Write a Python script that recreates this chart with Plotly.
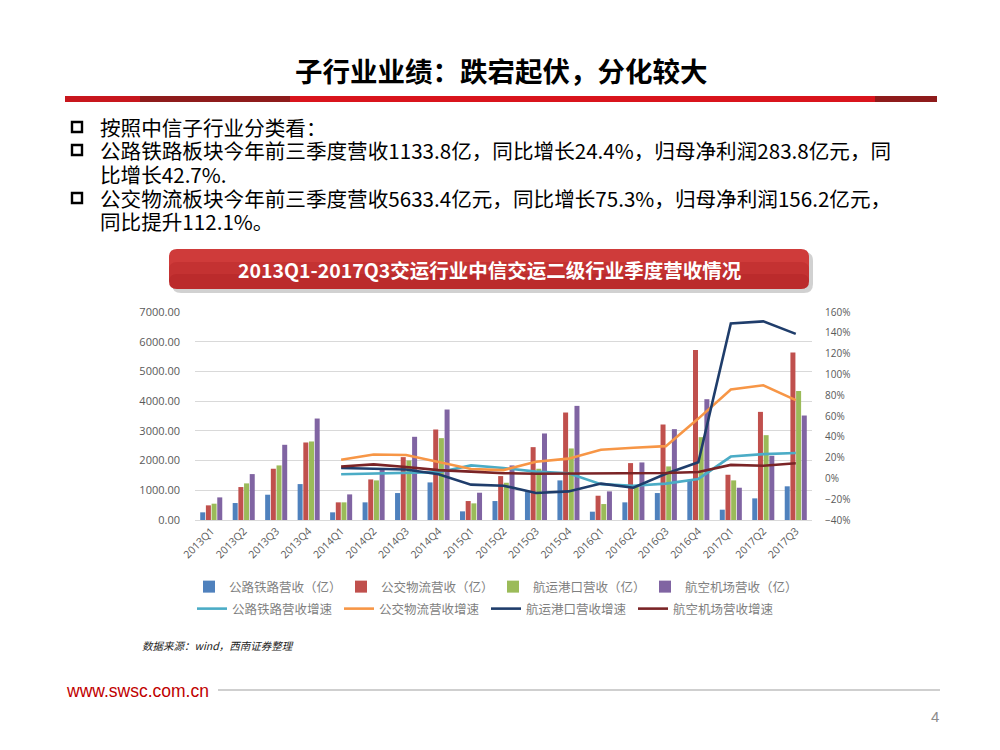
import plotly.graph_objects as go

# ---------------- data ----------------
quarters = ["2013Q1", "2013Q2", "2013Q3", "2013Q4", "2014Q1", "2014Q2", "2014Q3", "2014Q4",
            "2015Q1", "2015Q2", "2015Q3", "2015Q4", "2016Q1", "2016Q2", "2016Q3", "2016Q4",
            "2017Q1", "2017Q2", "2017Q3"]

highway_rev = [258, 571, 851, 1209, 258, 594, 907, 1265, 291, 638, 940, 1333, 280, 594, 907, 1320, 347, 728, 1133.8]
logistics_rev = [493, 1109, 1725, 2609, 594, 1366, 2116, 3046, 638, 1478, 2452, 3617, 817, 1915, 3214, 5722, 1523, 3639, 5633.4]
port_rev = [549, 1232, 1837, 2643, 594, 1333, 2004, 2755, 560, 1254, 1725, 2408, 537, 1150, 1803, 2788, 1333, 2855, 4345]
airport_rev = [761, 1545, 2531, 3415, 862, 1725, 2800, 3718, 918, 1837, 2912, 3841, 963, 1937, 3057, 4065, 1086, 2161, 3516]

highway_g = [None, None, None, None, 4, 4.5, 5.5, 6, 12.5, 10, 6.5, 5, -5.5, -7, -5, -0.5, 21, 23.3, 24.4]
logistics_g = [None, None, None, None, 18, 23, 22.5, 16, 9, 8, 16, 19, 27.5, 29.5, 31, 57.5, 85.5, 89.5, 75.3]
port_g = [None, None, None, None, 10, 9.5, 8.5, 4, -6, -7, -14, -12.5, -5, -9, 4.5, 15.5, 149, 151, 139]
airport_g = [None, None, None, None, 11.5, 13.5, 11, 8, 6.5, 5, 4.5, 4.5, 4.5, 4.8, 5.2, 6.2, 13, 12.2, 14.5]

bar_names = ["公路铁路营收（亿）", "公交物流营收（亿）", "航运港口营收（亿）", "航空机场营收（亿）"]
line_names = ["公路铁路营收增速", "公交物流营收增速", "航运港口营收增速", "航空机场营收增速"]

title_text = "子行业业绩：跌宕起伏，分化较大"
bullet_lines = [
    ("按照中信子行业分类看：", True),
    ("公路铁路板块今年前三季度营收1133.8亿，同比增长24.4%，归母净利润283.8亿元，同", True),
    ("比增长42.7%.", False),
    ("公交物流板块今年前三季度营收5633.4亿元，同比增长75.3%，归母净利润156.2亿元，", True),
    ("同比提升112.1%。", False),
]
chart_title = "2013Q1-2017Q3交运行业中信交运二级行业季度营收情况"
source_text = "数据来源：wind，西南证券整理"

# ---------------- style ----------------
bar_colors = ["#4f81bd", "#c0504d", "#9bbb59", "#8064a2"]
line_colors = ["#4bacc6", "#f79646", "#1f3d6b", "#7a2426"]
CJK = "Noto Sans CJK SC, Noto Sans, sans-serif"
TICK_FONT = dict(family="Open Sans, Noto Sans, sans-serif", size=10.5, color="#595959")
LEG_FONT = dict(family=CJK, size=12.5, color="#7f7f7f")

W, H = 1000, 750
def px(x):
    return x / W
def py(y):
    return 1 - y / H

fig = go.Figure()

for vals, name, col in zip([highway_rev, logistics_rev, port_rev, airport_rev], bar_names, bar_colors):
    fig.add_trace(go.Bar(x=quarters, y=vals, name=name, marker=dict(color=col, line=dict(width=0)),
                         legend="legend"))

for vals, name, col in zip([highway_g, logistics_g, port_g, airport_g], line_names, line_colors):
    fig.add_trace(go.Scatter(x=quarters, y=vals, name=name, mode="lines",
                             line=dict(color=col, width=2.6), yaxis="y2", legend="legend2"))

shapes = []
# title underline bar segments
for x0, x1, c in [(65, 140, "#c8161d"), (140, 290, "#8e1b1b"), (290, 875, "#d9141c"), (875, 937, "#8e1b1b")]:
    shapes.append(dict(type="rect", xref="paper", yref="paper", x0=px(x0), x1=px(x1),
                       y0=py(102), y1=py(96), fillcolor=c, line=dict(width=0), layer="above"))

line_ys = [127, 150, 174, 198, 221]
for (txt, bullet), yy in zip(bullet_lines, line_ys):
    if bullet:
        shapes.append(dict(type="rect", xref="paper", yref="paper", x0=px(72), x1=px(82),
                           y0=py(yy + 5), y1=py(yy - 5), fillcolor="white",
                           line=dict(color="black", width=2.4)))

# banner with rounded corners
def rounded(x0, y0, x1, y1, r):
    rx, ry = r / W, r / H
    X0, X1, Y0, Y1 = px(x0), px(x1), py(y1), py(y0)
    return (f"M {X0+rx},{Y1} L {X1-rx},{Y1} Q {X1},{Y1} {X1},{Y1-ry} "
            f"L {X1},{Y0+ry} Q {X1},{Y0} {X1-rx},{Y0} L {X0+rx},{Y0} "
            f"Q {X0},{Y0} {X0},{Y0+ry} L {X0},{Y1-ry} Q {X0},{Y1} {X0+rx},{Y1} Z")

shapes.append(dict(type="path", xref="paper", yref="paper", path=rounded(172, 252, 813, 293, 9),
                   fillcolor="rgba(0,0,0,0.18)", line=dict(width=0)))
shapes.append(dict(type="path", xref="paper", yref="paper", path=rounded(169, 249, 809, 289, 8),
                   fillcolor="#cf3b3a", line=dict(width=0)))
shapes.append(dict(type="path", xref="paper", yref="paper", path=rounded(169, 262, 809, 289, 8),
                   fillcolor="rgba(150,10,15,0.18)", line=dict(width=0)))
shapes.append(dict(type="path", xref="paper", yref="paper", path=rounded(169, 274, 809, 289, 8),
                   fillcolor="rgba(150,10,15,0.18)", line=dict(width=0)))

# footer line
shapes.append(dict(type="line", xref="paper", yref="paper", x0=px(218), x1=px(940),
                   y0=py(690), y1=py(690), line=dict(color="#bfbfbf", width=1.5)))

annotations = [
    dict(text=f"<b>{title_text}</b>", x=px(501), y=py(70), xref="paper", yref="paper",
         showarrow=False, xanchor="center", yanchor="middle",
         font=dict(family=CJK, size=27.5, color="black")),
    dict(text=f"<b>{chart_title}</b>", x=px(490), y=py(269), xref="paper", yref="paper",
         showarrow=False, xanchor="center", yanchor="middle",
         font=dict(family=CJK, size=19.5, color="white")),
    dict(text=f"<i>{source_text}</i>", x=px(140), y=py(645), xref="paper", yref="paper",
         showarrow=False, xanchor="left", yanchor="middle",
         font=dict(family=CJK, size=10.5, color="#222222")),
    dict(text="www.swsc.com.cn", x=px(64), y=py(691), xref="paper", yref="paper",
         showarrow=False, xanchor="left", yanchor="middle",
         font=dict(family="Liberation Sans Narrow, Liberation Sans, sans-serif", size=17.5, color="#c00000")),
    dict(text="4", x=px(941), y=py(716), xref="paper", yref="paper",
         showarrow=False, xanchor="right", yanchor="middle",
         font=dict(family="Liberation Sans Narrow, Liberation Sans, sans-serif", size=15, color="#8c8c8c")),
]
for (txt, bullet), yy in zip(bullet_lines, line_ys):
    annotations.append(dict(text=txt, x=px(98), y=py(yy), xref="paper", yref="paper",
                            showarrow=False, xanchor="left", yanchor="middle", height=22,
                            font=dict(family=CJK, size=20.6, color="black")))

fig.update_layout(
    width=W, height=H,
    margin=dict(l=0, r=0, t=0, b=0, pad=0, autoexpand=False),
    paper_bgcolor="white", plot_bgcolor="white",
    barmode="group", bargap=0.3, bargroupgap=0.12,
    xaxis=dict(domain=[px(195), px(812)], tickangle=-45, tickfont=TICK_FONT, automargin=False,
               showline=True, linecolor="#d9d9d9", linewidth=1, ticks="", showgrid=False),
    yaxis=dict(domain=[py(520), py(312)], range=[0, 7000], dtick=1000, tickformat=".2f",
               tickfont=dict(family="Open Sans, Noto Sans, sans-serif", size=11, color="#595959"),
               showgrid=True, gridcolor="#d9d9d9", gridwidth=1, zeroline=False, showline=False,
               ticks="", ticklabelstandoff=14, automargin=False),
    yaxis2=dict(overlaying="y", side="right", range=[-40, 160], dtick=20, ticksuffix="%",
                tickfont=dict(family="Open Sans, Noto Sans, sans-serif", size=10, color="#595959"),
                showgrid=False, zeroline=False, showline=False, ticks="", ticklabelstandoff=12,
                automargin=False),
    legend=dict(orientation="h", x=px(189), y=py(587), xanchor="left", yanchor="middle",
                entrywidth=107, entrywidthmode="pixels", itemwidth=30,
                font=LEG_FONT, bgcolor="rgba(0,0,0,0)", traceorder="normal"),
    legend2=dict(orientation="h", x=px(192), y=py(609), xanchor="left", yanchor="middle",
                 entrywidth=102, entrywidthmode="pixels", itemwidth=30,
                 font=LEG_FONT, bgcolor="rgba(0,0,0,0)", traceorder="normal"),
    shapes=shapes,
    annotations=annotations,
)

fig.write_html("out.html", config={"displayModeBar": False},
               post_script="document.body.style.margin='0';document.body.style.overflow='hidden';")
